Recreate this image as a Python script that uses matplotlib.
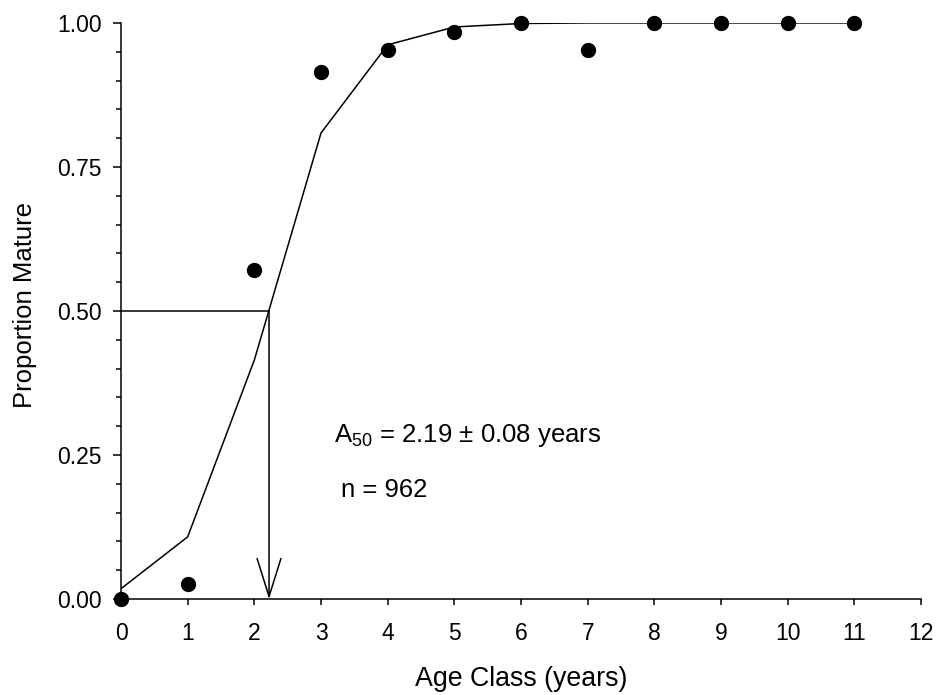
import matplotlib
matplotlib.use("Agg")
import matplotlib.pyplot as plt
from matplotlib.ticker import MultipleLocator, FormatStrFormatter

plt.rcParams['font.family'] = ['Liberation Sans', 'DejaVu Sans']
plt.rcParams['mathtext.default'] = 'regular'

# Observed proportions mature by age class
ages = [0, 1, 2, 3, 4, 5, 6, 7, 8, 9, 10, 11]
observed = [0.0, 0.027, 0.572, 0.915, 0.953, 0.984, 1.0, 0.953, 1.0, 1.0, 1.0, 1.0]

# Fitted logistic curve values at each age class
fitted = [0.018, 0.108, 0.415, 0.809, 0.962, 0.993, 0.999, 1.0, 1.0, 1.0, 1.0, 1.0]

a50_pos = 2.22
a50_text = r"A$_{50}$ = 2.19 ± 0.08 years"
n_text = "n = 962"

fig = plt.figure(figsize=(9.38, 6.95), dpi=100)
ax = fig.add_axes([0.129, 0.138, 0.853, 0.829])

ax.plot(ages, fitted, color='black', lw=1.1, zorder=2)
ax.plot(ages, observed, 'o', color='black', ms=10, clip_on=False, zorder=3)

# A50 reference lines
ax.plot([0, a50_pos], [0.5, 0.5], color='black', lw=1.1)
ax.annotate('', xy=(a50_pos, 0), xytext=(a50_pos, 0.5),
            arrowprops=dict(arrowstyle='->,head_length=2.74,head_width=0.86',
                            color='black', lw=1.1, shrinkA=0, shrinkB=0,
                            mutation_scale=10))

ax.text(3.20, 0.2726, a50_text, fontsize=18.5, ha='left', va='baseline')
ax.text(3.30, 0.177, n_text, fontsize=18.5, ha='left', va='baseline')

ax.set_xlim(0, 12)
ax.set_ylim(0, 1)
ax.xaxis.set_major_locator(MultipleLocator(1))
ax.yaxis.set_major_locator(MultipleLocator(0.25))
ax.yaxis.set_minor_locator(MultipleLocator(0.05))
ax.yaxis.set_major_formatter(FormatStrFormatter('%.2f'))

for s in ['top', 'right']:
    ax.spines[s].set_visible(False)
for s in ['left', 'bottom']:
    ax.spines[s].set_linewidth(1.1)

ax.tick_params(axis='x', which='major', direction='out', length=4.5, width=1.1,
               labelsize=16.5, pad=12)
ax.tick_params(axis='y', which='major', direction='out', length=5.8, width=1.1,
               labelsize=16.5, pad=8.3)
ax.tick_params(axis='y', which='minor', direction='out', length=3.6, width=1.1)

ax.set_xlabel('Age Class (years)', fontsize=19.3, labelpad=15)
ax.set_ylabel('Proportion Mature', fontsize=18.5)
ax.yaxis.set_label_coords(-0.105, 0.51)

fig.savefig('out.png', dpi=100)
